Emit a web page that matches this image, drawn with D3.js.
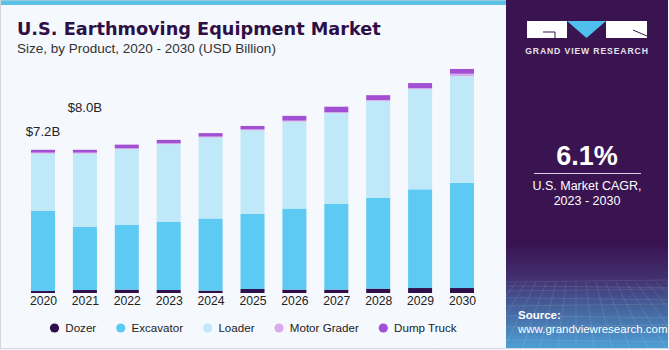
<!DOCTYPE html>
<html><head><meta charset="utf-8">
<script src="https://cdn.jsdelivr.net/npm/d3@7"></script>
<style>html,body{margin:0;padding:0;background:#fff;}svg{display:block;}</style>
</head><body>
<svg id="chart" width="670" height="350"></svg>
<script>
const years = ["2020","2021","2022","2023","2024","2025","2026","2027","2028","2029","2030"];
const seriesNames = ["Dozer","Excavator","Loader","Motor Grader","Dump Truck"];
const dozer      = [0.10,0.15,0.17,0.15,0.12,0.20,0.17,0.17,0.22,0.25,0.25];
const excavator  = [4.03,3.19,3.27,3.44,3.63,3.78,4.08,4.31,4.58,4.97,5.30];
const loader     = [2.89,3.68,3.81,3.90,4.08,4.21,4.38,4.58,4.87,5.05,5.37];
const motorGrader= [0.05,0.05,0.04,0.05,0.05,0.05,0.05,0.05,0.05,0.05,0.12];
const dumpTruck  = [0.14,0.14,0.18,0.17,0.17,0.17,0.24,0.27,0.24,0.25,0.24];
const colors = ["#2f0f4b","#5ccaf2","#bfe8f8","#d8abe9","#a24fd3"];
const valueLabels = [{year:"2020", text:"$7.2B"},{year:"2021", text:"$8.0B"}];
const cagrText = "6.1%";
const cagrLabel = ["U.S. Market CAGR,","2023 - 2030"];

const svg = d3.select("#chart");
const W = 670, H = 350, panelX = 506;

// backgrounds
svg.append("rect").attr("x",0).attr("y",0).attr("width",W).attr("height",H).attr("fill","#f5f8fc");
svg.append("rect").attr("x",0).attr("y",0).attr("width",panelX).attr("height",5).attr("fill","#5cc1e6");
svg.append("rect").attr("x",0.5).attr("y",0).attr("width",W-1).attr("height",H-1.5).attr("fill","none").attr("stroke","#d3d6da").attr("stroke-width",1);

// right panel
const defs = svg.append("defs");
const g1 = defs.append("linearGradient").attr("id","pg").attr("x1",0).attr("y1",0).attr("x2",0).attr("y2",1);
[[0,"#3a1351"],[0.70,"#3a1351"],[0.80,"#42306f"],[0.88,"#45609a"],[1,"#4e9fd4"]].forEach(s=>g1.append("stop").attr("offset",s[0]).attr("stop-color",s[1]));
svg.append("rect").attr("x",panelX).attr("y",0).attr("width",W-panelX-2).attr("height",H-2).attr("fill","url(#pg)");
// grid texture
const grid = svg.append("g").attr("stroke","#ffffff").attr("stroke-opacity",0.15).attr("stroke-width",0.7).attr("fill","none");
for(let k=0;k<10;k++){const yy=282+k*k*0.75+k*3;grid.append("line").attr("x1",panelX).attr("x2",W-2).attr("y1",yy).attr("y2",yy+ (k%2?2:-2));}
for(let k=-8;k<=16;k++){grid.append("line").attr("x1",panelX+20+k*10).attr("y1",282).attr("x2",panelX+20+k*18-40).attr("y2",348);}

// logo
const lg = svg.append("g");
lg.append("rect").attr("x",527).attr("y",21).attr("width",40).attr("height",17).attr("fill","#ffffff");
lg.append("path").attr("d","M543,32 H555 V38").attr("stroke","#3a1351").attr("stroke-width",1).attr("fill","none");
lg.append("path").attr("d","M567,21 L606,21 L586.5,38 Z").attr("fill","#4fc0ec");
lg.append("rect").attr("x",606).attr("y",21).attr("width",41).attr("height",17).attr("fill","#ffffff");
lg.append("path").attr("d","M633,30 L647,36").attr("stroke","#3a1351").attr("stroke-width",1);
svg.append("text").attr("x",587).attr("y",54).attr("text-anchor","middle").attr("fill","#e8e4ee")
  .attr("font-family","Liberation Sans, Arial, sans-serif").attr("font-weight","bold").attr("font-size",8.6).attr("letter-spacing",0.9).text("GRAND VIEW RESEARCH");

svg.append("text").attr("x",587).attr("y",165).attr("text-anchor","middle").attr("fill","#ffffff")
  .attr("font-family","Liberation Sans, Arial, sans-serif").attr("font-weight","bold").attr("font-size",27).text(cagrText);
svg.append("line").attr("x1",534).attr("x2",641).attr("y1",173.5).attr("y2",173.5).attr("stroke","#d9cfe3").attr("stroke-width",1.2);
cagrLabel.forEach((t,i)=>svg.append("text").attr("x",587).attr("y",190+i*14.5).attr("text-anchor","middle").attr("fill","#ffffff")
  .attr("font-family","Liberation Sans, Arial, sans-serif").attr("font-size",12.5).text(t));
svg.append("text").attr("x",518).attr("y",319).attr("fill","#ffffff").attr("font-family","Liberation Sans, Arial, sans-serif")
  .attr("font-weight","bold").attr("font-size",11.5).text("Source:");
svg.append("text").attr("x",518).attr("y",332.5).attr("fill","#ffffff").attr("font-family","Liberation Sans, Arial, sans-serif")
  .attr("font-size",11.5).text("www.grandviewresearch.com");

// titles
svg.append("text").attr("x",17).attr("y",34.5).attr("fill","#2e0f46").attr("font-family","DejaVu Sans, sans-serif")
  .attr("font-weight","bold").attr("font-size",17.7).text("U.S. Earthmoving Equipment Market");
svg.append("text").attr("x",17).attr("y",53).attr("fill","#333333").attr("font-family","Liberation Sans, Arial, sans-serif")
  .attr("font-size",13.5).text("Size, by Product, 2020 - 2030 (USD Billion)");

// scales
const x = d3.scalePoint().domain(years).range([43, 462]);
const y = d3.scaleLinear().domain([0, 12]).range([293, 293 - 12*19.86]);
const barW = 24;

const table = years.map((yr,i)=>({year:yr, "Dozer":dozer[i], "Excavator":excavator[i], "Loader":loader[i], "Motor Grader":motorGrader[i], "Dump Truck":dumpTruck[i]}));
const stacked = d3.stack().keys(seriesNames)(table);

svg.append("g").selectAll("g").data(stacked).join("g").attr("fill",(d,i)=>colors[i])
  .selectAll("rect").data(d=>d).join("rect")
  .attr("x",d=>x(d.data.year)-barW/2).attr("width",barW)
  .attr("y",d=>y(d[1])).attr("height",d=>y(d[0])-y(d[1]));

// x axis labels
const xAxis = d3.axisBottom(x).tickSize(0).tickPadding(0);
const ax = svg.append("g").attr("transform","translate(0,296)").call(xAxis);
ax.select(".domain").remove();
ax.selectAll("text").attr("font-family","Liberation Sans, Arial, sans-serif").attr("font-size",12.2).attr("fill","#222").attr("dy","0.71em");

// value labels
const totals = table.map(d=>seriesNames.reduce((s,k)=>s+d[k],0));
valueLabels.forEach((v,i)=>{
  const idx = years.indexOf(v.year);
  svg.append("text").attr("x",x(v.year)).attr("y",y(totals[idx]) - 14 - i*24).attr("text-anchor","middle")
    .attr("font-family","Liberation Sans, Arial, sans-serif").attr("font-size",13.2).attr("fill","#222").text(v.text);
});

// legend
const leg = svg.append("g").attr("transform","translate(0,328)");
let lx = 54.5;
seriesNames.forEach((n,i)=>{
  leg.append("circle").attr("cx",lx).attr("cy",0).attr("r",4.6).attr("fill",colors[i]);
  const t = leg.append("text").attr("x",lx+10.8).attr("y",4).attr("font-family","Liberation Sans, Arial, sans-serif")
    .attr("font-size",11.6).attr("fill","#222").text(n);
  lx = lx + 10.8 + t.node().getComputedTextLength() + 24.5;
});
</script>
</body></html>
